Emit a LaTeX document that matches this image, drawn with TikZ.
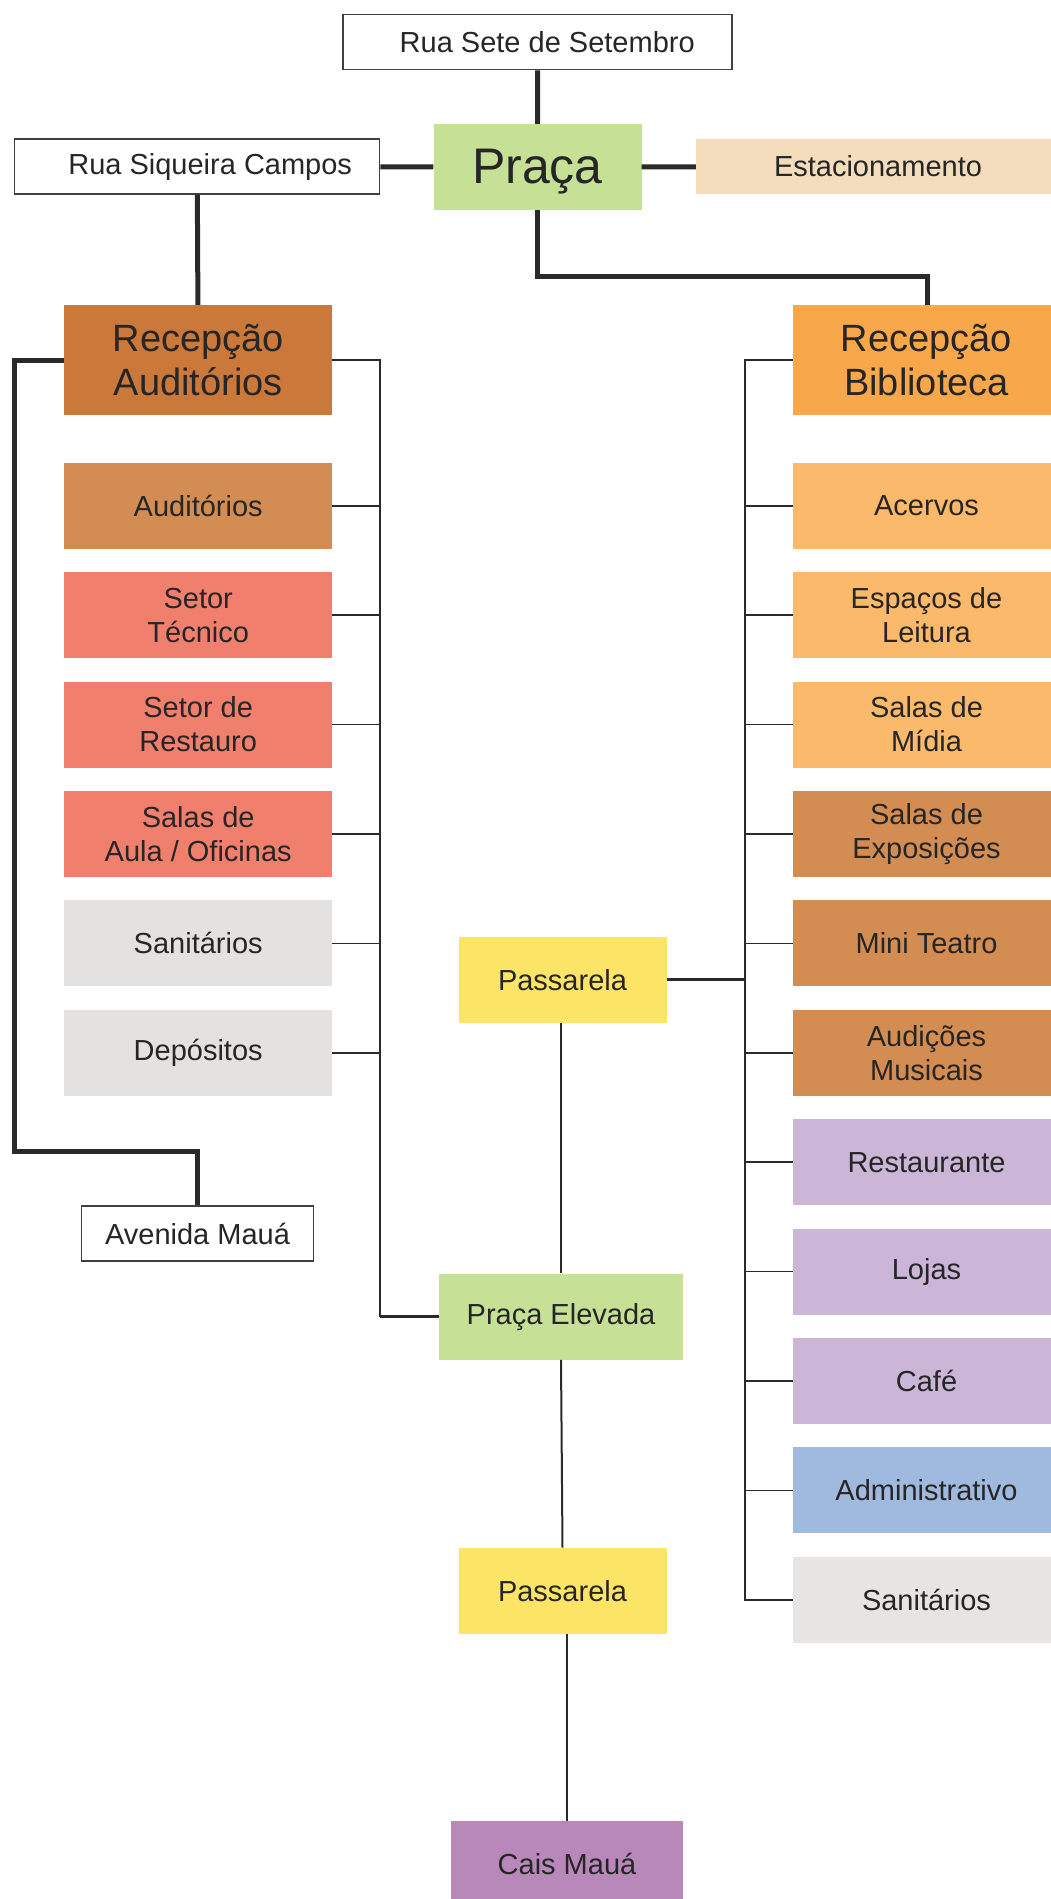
\documentclass[tikz,border=0pt]{standalone}
\usepackage{fontspec}
\setmainfont{Liberation Sans}
\usepackage{xcolor}
\usetikzlibrary{positioning}

\definecolor{verde}{HTML}{C6E096}
\definecolor{bege}{HTML}{F3DDBD}
\definecolor{marrom}{HTML}{CB793B}
\definecolor{caramelo}{HTML}{D38D52}
\definecolor{salmao}{HTML}{F07F6E}
\definecolor{cinza}{HTML}{E3E2E0}
\definecolor{laranja}{HTML}{F8A84A}
\definecolor{pessego}{HTML}{FBB96B}
\definecolor{lilas}{HTML}{CCB6D8}
\definecolor{azul}{HTML}{A0B9DE}
\definecolor{amarelo}{HTML}{FCE466}
\definecolor{roxo}{HTML}{B888BA}
\definecolor{traco}{HTML}{2A2A2A}

\begin{document}
\begin{tikzpicture}[
                x=1pt, y=-1pt,
                font=\fontsize{29}{34}\selectfont,
                grosso/.style={line width=5pt, traco},
                medio/.style={line width=3pt, traco},
                fino/.style={line width=2pt, traco},
                trilho/.style={line width=1.5pt, traco},
                rua/.style={rectangle, draw=black!75, line width=1.5pt, fill=white, minimum height=55pt, inner sep=0pt, text=black!85},
                sala/.style={rectangle, minimum width=268pt, minimum height=86pt, align=center, inner sep=0pt, text=black!85},
                salab/.style={sala, minimum width=267pt},
                centro/.style={rectangle, minimum width=208pt, minimum height=86pt, align=center, inner sep=0pt, text=black!85},
                recepcao/.style={rectangle, minimum height=110pt, align=center, inner sep=0pt, text=black!85, font=\fontsize{38}{44}\selectfont}
            ]
                \useasboundingbox (0,0) rectangle (1050,1899);

                % Acessos e praca
                \node[rua, minimum width=389pt] (sete) at (537.7,42) {\hspace*{19pt}Rua Sete de Setembro};
                \node[centro, fill=verde, font=\fontsize{50}{56}\selectfont] (praca) at (537.5,167) {\raisebox{-5pt}[\height][\depth]{Praça}};
                \node[rua, minimum width=365pt] (siqueira) at (197.2,166.5) {\hspace*{26pt}Rua Siqueira Campos};
                \node[centro, fill=bege, minimum width=364pt, minimum height=55pt] (estac) at (878,166.5) {Estacionamento};
                \draw[grosso] (sete) -- (praca);
                \draw[grosso] (siqueira) -- (praca);
                \draw[grosso] (praca) -- (estac);

                % Recepcoes
                \node[recepcao, fill=marrom, minimum width=268pt] (recaud) at (198.2,360) {Recepção\\Auditórios};
                \node[recepcao, fill=laranja, minimum width=267pt] (recbib) at (926.5,360) {Recepção\\Biblioteca};
                \coordinate (desvio) at (927.5,276);
                \draw[grosso] (siqueira) -- (recaud);
                \draw[grosso] (praca.south) |- (desvio) -- (desvio |- recbib.north);

                % Bloco auditorios (esquerda)
                \node[sala, fill=caramelo] (auditorios) at (198.2,505.8) {Auditórios};
                \node[sala, fill=salmao] (tecnico) at (198.2,615.2) {Setor\\Técnico};
                \node[sala, fill=salmao] (restauro) at (198.2,724.6) {Setor de\\Restauro};
                \node[sala, fill=salmao] (aulas) at (198.2,834) {Salas de\\Aula / Oficinas};
                \node[sala, fill=cinza] (sanitA) at (198.2,943.4) {Sanitários};
                \node[sala, fill=cinza] (depositos) at (198.2,1052.8) {Depósitos};

                % Bloco biblioteca (direita)
                \node[salab, fill=pessego] (acervos) at (926.5,505.8) {Acervos};
                \node[salab, fill=pessego] (leitura) at (926.5,615.2) {Espaços de\\Leitura};
                \node[salab, fill=pessego] (midia) at (926.5,724.6) {Salas de\\Mídia};
                \node[salab, fill=caramelo] (exposicoes) at (926.5,834) {Salas de\\Exposições};
                \node[salab, fill=caramelo] (teatro) at (926.5,943.4) {Mini Teatro};
                \node[salab, fill=caramelo] (audicoes) at (926.5,1052.8) {Audições\\Musicais};
                \node[salab, fill=lilas] (restaurante) at (926.5,1162.2) {Restaurante};
                \node[salab, fill=lilas] (lojas) at (926.5,1271.6) {Lojas};
                \node[salab, fill=lilas] (cafe) at (926.5,1381) {Café};
                \node[salab, fill=azul] (admin) at (926.5,1490.4) {Administrativo};
                \node[salab, fill=cinza!90!white] (sanitB) at (926.5,1599.8) {Sanitários};

                % Eixo central
                \node[centro, fill=amarelo] (passarela1) at (562.5,979.8) {Passarela};
                \node[rua, minimum width=232pt] (avenida) at (197.5,1233.5) {Avenida Mauá};
                \node[centro, fill=verde, minimum width=244pt] (pracael) at (561,1316.6) {Praça Elevada};
                \node[centro, fill=amarelo] (passarela2) at (562.5,1590.8) {Passarela};
                \node[centro, fill=roxo, minimum width=232pt] (cais) at (567,1864) {Cais Mauá};

                % Ligacao Avenida Maua
                \coordinate (canto) at (14,1151);
                \draw[grosso] (recaud.west) -| (canto) -| (avenida.north);

                % Trilho esquerdo
                \coordinate (trilhoE) at (380,1316.6);
                \draw[trilho] (recaud.east) -| (trilhoE);
                \draw[medio] (trilhoE) -- (pracael.west);
                \draw[trilho] (auditorios.east) -- (auditorios.east -| trilhoE);
                \draw[trilho] (tecnico.east) -- (tecnico.east -| trilhoE);
                \draw[trilho] (restauro.east) -- (restauro.east -| trilhoE);
                \draw[trilho] (aulas.east) -- (aulas.east -| trilhoE);
                \draw[trilho] (sanitA.east) -- (sanitA.east -| trilhoE);
                \draw[trilho] (depositos.east) -- (depositos.east -| trilhoE);

                % Trilho direito
                \coordinate (trilhoD) at (745,1599.8);
                \draw[trilho] (recbib.west) -| (trilhoD) -- (sanitB.west);
                \draw[trilho] (acervos.west) -- (acervos.west -| trilhoD);
                \draw[trilho] (leitura.west) -- (leitura.west -| trilhoD);
                \draw[trilho] (midia.west) -- (midia.west -| trilhoD);
                \draw[trilho] (exposicoes.west) -- (exposicoes.west -| trilhoD);
                \draw[trilho] (teatro.west) -- (teatro.west -| trilhoD);
                \draw[trilho] (audicoes.west) -- (audicoes.west -| trilhoD);
                \draw[trilho] (restaurante.west) -- (restaurante.west -| trilhoD);
                \draw[trilho] (lojas.west) -- (lojas.west -| trilhoD);
                \draw[trilho] (cafe.west) -- (cafe.west -| trilhoD);
                \draw[trilho] (admin.west) -- (admin.west -| trilhoD);
                \draw[medio] (passarela1.east) -- (passarela1.east -| trilhoD);

                % Percurso central
                \coordinate (eixo) at (560.5,0);
                \draw[fino] (passarela1.south -| eixo) -- (pracael.north -| eixo);
                \draw[fino] (pracael.south) -- (passarela2.north);
                \draw[fino] (passarela2.south -| cais.north) -- (cais.north);

            \end{tikzpicture}
\end{document}
